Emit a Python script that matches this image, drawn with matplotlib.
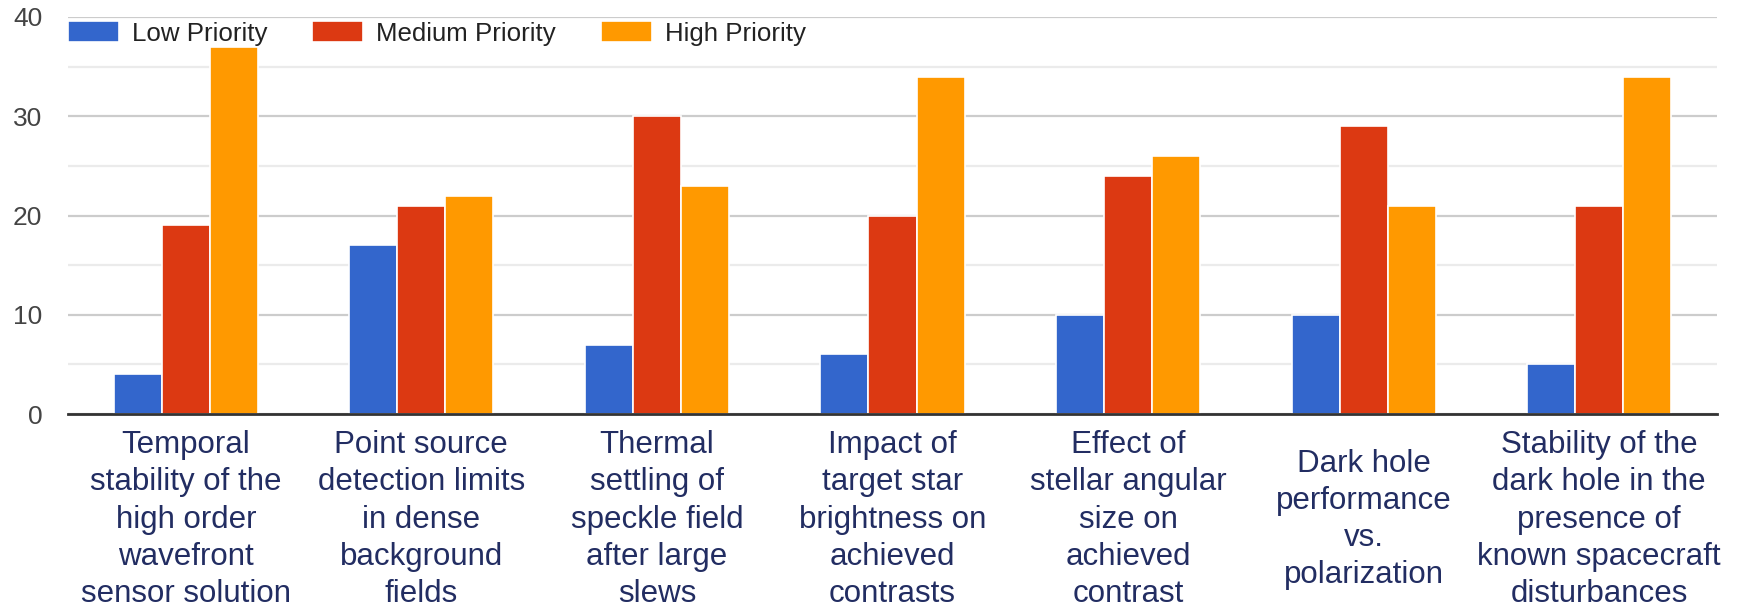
import matplotlib
matplotlib.use("Agg")
import matplotlib.pyplot as plt
import numpy as np

categories = [
    "Temporal\nstability of the\nhigh order\nwavefront\nsensor solution",
    "Point source\ndetection limits\nin dense\nbackground\nfields",
    "Thermal\nsettling of\nspeckle field\nafter large\nslews",
    "Impact of\ntarget star\nbrightness on\nachieved\ncontrasts",
    "Effect of\nstellar angular\nsize on\nachieved\ncontrast",
    "Dark hole\nperformance\nvs.\npolarization",
    "Stability of the\ndark hole in the\npresence of\nknown spacecraft\ndisturbances",
]
series_names = ["Low Priority", "Medium Priority", "High Priority"]
low = [4, 17, 7, 6, 10, 10, 5]
medium = [19, 21, 30, 20, 24, 29, 21]
high = [37, 22, 23, 34, 26, 21, 34]
colors = ["#3366cc", "#dc3912", "#ff9900"]

plt.rcParams['font.family'] = ['Liberation Sans', 'DejaVu Sans']

W, H = 1745, 616
fig = plt.figure(figsize=(W / 100, H / 100), dpi=100)
ax = fig.add_axes([68 / W, 1 - 414 / H, 1649 / W, 397 / H])

x = np.arange(len(categories))
w = 0.204
for k, (vals, name, c) in enumerate(zip([low, medium, high], series_names, colors)):
    ax.bar(x + (k - 1) * w, vals, width=w, color=c, edgecolor="white",
           linewidth=1.2, label=name, zorder=3)

ax.set_xlim(-0.5, 6.5)
ax.set_ylim(0, 40)
ax.set_yticks([0, 10, 20, 30, 40])
ax.set_yticks([5, 15, 25, 35], minor=True)
ax.grid(axis="y", which="major", color="#cccccc", linewidth=1.6, zorder=0)
ax.grid(axis="y", which="minor", color="#ebebeb", linewidth=1.6, zorder=0)
ax.set_axisbelow(True)
for s in ["top", "right", "left"]:
    ax.spines[s].set_visible(False)
ax.spines["bottom"].set_color("#333333")
ax.spines["bottom"].set_linewidth(2)
ax.spines["bottom"].set_zorder(4)

ax.tick_params(axis="y", which="both", length=0, pad=18.5, labelsize=19, labelcolor="#444444")
ax.tick_params(axis="x", length=0, pad=76, labelsize=22.5, labelcolor="#222d62")
ax.set_xticks(x)
ax.set_xticklabels(categories, va="center", ha="center", linespacing=1.31)

leg = ax.legend(loc="center left", bbox_to_anchor=(0.0, 1 - 16.5 / 397), ncol=3, frameon=False,
                fontsize=18.6, handlelength=1.97, handleheight=0.89, columnspacing=1.74,
                handletextpad=0.5, borderaxespad=0.0, borderpad=0.0)
for t in leg.get_texts():
    t.set_color("#222222")

fig.savefig("out.png", dpi=100, facecolor="white")
